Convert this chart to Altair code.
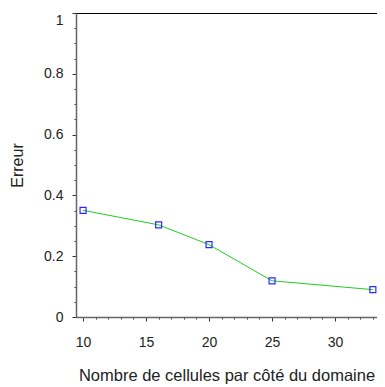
import altair as alt
import pandas as pd

cells = [10, 16, 20, 25, 33]
errors = [0.351, 0.303, 0.238, 0.119, 0.090]

x_ticks = list(range(10, 34))
y_ticks = [round(i * 0.05, 2) for i in range(0, 21)]

df = pd.DataFrame({"cells": cells, "err": errors})

FONT = "Liberation Sans"
x_dom = [9.44, 33.33]
Y_MAJOR = "abs(datum.value*5 - round(datum.value*5)) < 1e-6"

x_enc = alt.X(
    "cells:Q",
    scale=alt.Scale(domain=x_dom, nice=False, zero=False),
    axis=alt.Axis(
        title="Nombre de cellules par côté du domaine",
        values=x_ticks,
        labelExpr="datum.value % 5 == 0 ? format(datum.value, '~g') : ''",
        tickSize={"condition": {"test": "datum.value % 5 == 0", "value": 4}, "value": 2},
        labelOverlap=False,
        labelFlush=False,
        labelBound=False,
        grid=False,
        domainColor="#666666",
        domainWidth=1.5,
        tickColor="#333333",
        labelColor="#222222",
        labelFont=FONT,
        labelFontSize=14,
        labelPadding=14,
        titleFont=FONT,
        titleFontSize=16.5,
        titleFontWeight="normal",
        titleColor="#222222",
        titlePadding=18,
    ),
)
y_enc = alt.Y(
    "err:Q",
    scale=alt.Scale(domain=[0, 1], nice=False),
    axis=alt.Axis(
        title="Erreur",
        values=y_ticks,
        labelExpr=Y_MAJOR + " ? format(datum.value, '~g') : ''",
        labelBaseline={"condition": {"test": "datum.value >= 0.999", "value": "top"}, "value": "middle"},
        tickSize={"condition": {"test": Y_MAJOR, "value": 4}, "value": 2},
        labelOverlap=False,
        labelFlush=False,
        labelBound=False,
        grid=False,
        domainColor="#666666",
        domainWidth=1.5,
        tickColor="#333333",
        labelColor="#222222",
        labelFont=FONT,
        labelFontSize=14,
        labelPadding=9,
        titleFont=FONT,
        titleFontSize=16,
        titleFontWeight="normal",
        titleColor="#222222",
        titlePadding=18,
    ),
)

base = alt.Chart(df).encode(x=x_enc, y=y_enc)
line = base.mark_line(color="#22cc22", strokeWidth=1)
pts = base.mark_point(
    shape="square", size=36, filled=False, color="#2a2aff", strokeWidth=1.2, opacity=1
)

chart = (
    alt.layer(line, pts)
    .properties(
        width=301,
        height=304,
        autosize=alt.AutoSizeParams(type="none"),
        padding={"left": 68, "top": 5, "right": 0, "bottom": 70},
        background="white",
    )
    .configure_view(stroke="black", strokeWidth=1)
)

chart.save("out.html", embed_options={"renderer": "svg", "actions": False})
